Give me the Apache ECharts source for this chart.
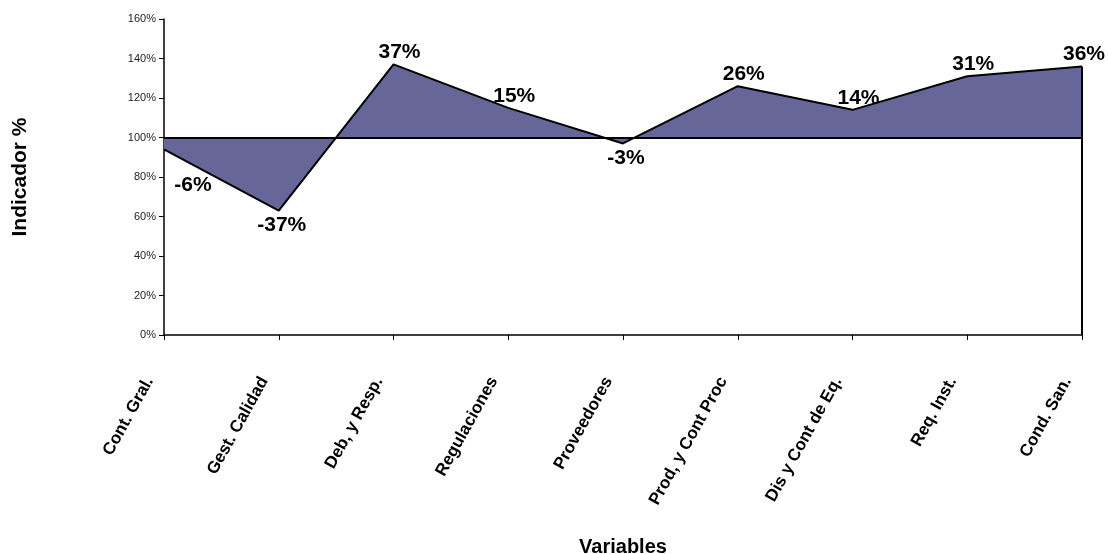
<!DOCTYPE html>
<html>
<head>
<meta charset="utf-8">
<title>Indicador %</title>
<script src="https://cdn.jsdelivr.net/npm/echarts@6/dist/echarts.min.js"></script>
<style>
  html, body { margin: 0; padding: 0; background: #fff; }
  #chart { width: 1108px; height: 554px; }
</style>
</head>
<body>
<div id="chart"></div>
<script>
// variables evaluadas
const categories = ['Cont. Gral.', 'Gest. Calidad', 'Deb, y Resp.', 'Regulaciones', 'Proveedores',
  'Prod, y Cont Proc', 'Dis y Cont de Eq.', 'Req. Inst.', 'Cond. San.'];
// indicador en % (base 100%)
const indicador = [94, 63, 137, 115, 97, 126, 114, 131, 136];
// etiquetas tal como aparecen en el grafico
const etiquetas = ['-6%', '-37%', '37%', '15%', '-3%', '26%', '14%', '31%', '36%'];
const yTicks = [0, 20, 40, 60, 80, 100, 120, 140, 160];
const base = 100;

const font = 'Arial, "Liberation Sans", sans-serif';
const last = categories.length - 1;

const seriesData = indicador.map((v, i) => {
  const neg = v < base;
  let offset = neg ? [3, 0] : [6, 3];
  if (i === 0) offset = [29, 21]; // la primera etiqueta va corrida a la derecha
  if (i === last) offset = [2, 3]; // que no se corte en el borde
  return {
    value: v,
    label: {
      formatter: etiquetas[i],
      position: neg ? 'bottom' : 'top',
      offset: offset
    }
  };
});

const chart = echarts.init(document.getElementById('chart'));
chart.setOption({
  animation: false,
  backgroundColor: '#fff',
  grid: { left: 164, right: 26, top: 19, bottom: 219, outerBoundsMode: 'none' },
  xAxis: {
    type: 'category',
    data: categories,
    boundaryGap: false,
    name: 'Variables',
    nameLocation: 'middle',
    nameGap: 202,
    nameTextStyle: { fontFamily: font, fontWeight: 'bold', fontSize: 20, color: '#000' },
    axisLine: { lineStyle: { color: '#000', width: 1.5 } },
    axisTick: { show: true, length: 5, lineStyle: { color: '#000' } },
    axisLabel: {
      interval: 0,
      rotate: 61,
      margin: 17,
      padding: [0, 30, 0, 0],
      fontFamily: font,
      fontWeight: 'bold',
      fontSize: 17,
      color: '#000'
    },
    splitLine: { show: false }
  },
  yAxis: {
    type: 'value',
    min: yTicks[0],
    max: yTicks[yTicks.length - 1],
    interval: yTicks[1] - yTicks[0],
    name: 'Indicador %',
    nameLocation: 'middle',
    nameRotate: 90,
    nameGap: 133,
    nameTextStyle: { fontFamily: font, fontWeight: 'bold', fontSize: 21, color: '#000' },
    axisLine: { show: true, lineStyle: { color: '#000', width: 1.5 } },
    axisTick: { show: true, inside: false, length: 5, lineStyle: { color: '#000' } },
    axisLabel: {
      formatter: '{value}%',
      margin: 8,
      fontFamily: font,
      fontSize: 11,
      color: '#222'
    },
    splitLine: { show: false }
  },
  series: [{
    type: 'line',
    data: seriesData,
    symbol: 'circle',
    symbolSize: 1,
    showSymbol: true,
    itemStyle: { color: 'rgba(0,0,0,0)' },
    lineStyle: { color: '#000', width: 2 },
    areaStyle: { color: '#666699', opacity: 1, origin: base },
    label: {
      show: true,
      distance: 4,
      fontFamily: font,
      fontWeight: 'bold',
      fontSize: 21,
      color: '#000'
    },
    markLine: {
      silent: true,
      symbol: 'none',
      label: { show: false },
      lineStyle: { color: '#000', width: 2, type: 'solid' },
      data: [
        { yAxis: base },
        [{ coord: [categories[last], 0] }, { coord: [categories[last], indicador[last]] }]
      ]
    },
    z: 3
  }]
});
</script>
</body>
</html>
